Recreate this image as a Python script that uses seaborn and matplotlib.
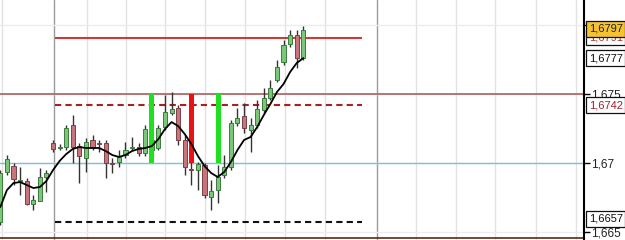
import numpy as np
import pandas as pd
import matplotlib
matplotlib.use("Agg")
import matplotlib.pyplot as plt
import matplotlib.transforms as mtransforms
import seaborn as sns

# ---------------- data ----------------
opens = [1.6657, 1.66935, 1.66978, 1.66873, 1.66870, 1.66703, 1.66725, 1.66899,
         1.67145, 1.67109, 1.67116, 1.67276, 1.67123, 1.67036, 1.67167, 1.67145,
         1.67145, 1.67000, 1.67007, 1.67058, 1.67109, 1.67116, 1.67073, 1.67094,
         1.67109, 1.67261, 1.67363, 1.67399, 1.67167, 1.66957, 1.66949, 1.66986,
         1.66754, 1.66804, 1.66913, 1.66971, 1.67290, 1.67341, 1.67239, 1.67276,
         1.67384, 1.67471, 1.67602, 1.67732, 1.67863, 1.67928, 1.67761]
closes = [1.6693, 1.67029, 1.66884, 1.66877, 1.66703, 1.66732, 1.66899, 1.66928,
          1.67102, 1.67116, 1.67254, 1.67116, 1.67051, 1.67152, 1.67116, 1.67140,
          1.67000, 1.66993, 1.67044, 1.67094, 1.67116, 1.67073, 1.67247, 1.67167,
          1.67254, 1.67370, 1.67392, 1.67167, 1.66971, 1.66949, 1.66993, 1.66768,
          1.66797, 1.66899, 1.66971, 1.67290, 1.67326, 1.67254, 1.67276, 1.67392,
          1.67471, 1.67544, 1.67696, 1.67856, 1.67928, 1.67761, 1.67964]
highs = [1.6695, 1.67058, 1.67000, 1.66971, 1.66891, 1.66768, 1.66964, 1.66949,
         1.67167, 1.67140, 1.67276, 1.67348, 1.67145, 1.67181, 1.67203, 1.67167,
         1.67167, 1.67036, 1.67094, 1.67152, 1.67189, 1.67145, 1.67276, 1.67200,
         1.67276, 1.67493, 1.67515, 1.67420, 1.67203, 1.67007, 1.67007, 1.67000,
         1.66877, 1.66986, 1.67058, 1.67312, 1.67399, 1.67435, 1.67326, 1.67457,
         1.67544, 1.67602, 1.67747, 1.67892, 1.67964, 1.67964, 1.67993]
lows = [1.6655, 1.66913, 1.66841, 1.66768, 1.66696, 1.66659, 1.66725, 1.66790,
        1.67080, 1.67094, 1.67094, 1.67000, 1.66855, 1.66935, 1.67094, 1.67080,
        1.66891, 1.66928, 1.66971, 1.67036, 1.67094, 1.67051, 1.67051, 1.67070,
        1.67094, 1.67239, 1.67348, 1.67130, 1.66913, 1.66841, 1.66804, 1.66746,
        1.66659, 1.66710, 1.66891, 1.66949, 1.67268, 1.67218, 1.67080, 1.67254,
        1.67363, 1.67457, 1.67587, 1.67711, 1.67841, 1.67689, 1.67747]
ma_values = [1.66681, 1.66804, 1.66855, 1.66862, 1.66841, 1.66819, 1.66826, 1.66870,
             1.66949, 1.67015, 1.67065, 1.67102, 1.67116, 1.67109, 1.67109, 1.67109,
             1.67087, 1.67058, 1.67044, 1.67058, 1.67087, 1.67102, 1.67109, 1.67123,
             1.67174, 1.67247, 1.67297, 1.67268, 1.67210, 1.67138, 1.67051, 1.66978,
             1.66928, 1.66899, 1.66935, 1.67007, 1.67094, 1.67167, 1.67189, 1.67261,
             1.67348, 1.67428, 1.67515, 1.67573, 1.67660, 1.67725, 1.67761]

# signal bars: (candle index, colour)
signal_index = [23, 29.05, 33.1]
signal_color = ["#1fe01f", "#ee1111", "#1fe01f"]
signal_low, signal_high = 1.6700, 1.6750

level_resist = 1.6791     # solid red
level_dash_red = 1.6742   # dashed red
level_brown = 1.6750      # full width brown
level_blue = 1.6700       # full width light blue
level_dash_black = 1.6657 # dashed black
level_bottom = 1.66458

tick_values = [1.665, 1.67, 1.675, 1.68]
tick_labels = ["1,665", "1,67", "1,675", "1,68"]

df = pd.DataFrame({"idx": np.arange(len(opens)), "open": opens, "close": closes,
                   "high": highs, "low": lows, "ma": ma_values})

# ---------------- drawing ----------------
sns.set_theme(style="white")
plt.rcParams["font.family"] = ["Liberation Sans", "DejaVu Sans"]

fig = plt.figure(figsize=(6.25, 2.4), dpi=100)
ax = fig.add_axes([0, 0, 584 / 625, 1])
ax.set_facecolor("white")

xmax = 584 / 6.59
ax.set_xlim(-0.05, xmax)
ax.set_ylim(1.66442, 1.68182)

# grid
vgrid = [0.3, 8.2, 13.2, 19.1, 25.0, 31.1, 37.2, 43.2, 49.3, 57.2, 63.1, 69.2, 75.1, 81.3, 87.4]
for v in vgrid:
    major = v in (8.2, 57.2)
    ax.axvline(v, color="#9a9a9a" if major else "#e2e2e2", lw=1.0, zorder=0)
for t in tick_values:
    ax.axhline(t, color="#ececec", lw=1.0, zorder=0)

# level lines
ax.axhline(level_brown, color="#a86060", lw=1.2, zorder=1)
ax.axhline(level_blue, color="#7cc0e6", lw=1.0, zorder=1)
ax.axhline(level_bottom, color="#5a2a1a", lw=1.2, zorder=1)
x0, x1 = 8.35, 54.9
ax.hlines(level_resist, x0, x1, color="#cc3a3a", lw=1.5, zorder=1)
ax.hlines(level_dash_red, x0, x1, color="#aa2020", lw=1.5, linestyles=(0, (3, 2)), zorder=1)
ax.hlines(level_dash_black, x0, x1, color="#111111", lw=1.5, linestyles=(0, (3, 2)), zorder=1)

# candles
up = df["close"] >= df["open"]
ax.vlines(df["idx"], df["low"], df["high"], color="#333333", lw=1.0, zorder=2)
body_bottom = np.minimum(df["open"], df["close"])
body_h = np.maximum(np.abs(df["close"] - df["open"]), 0.00003)
ax.bar(df["idx"][up], body_h[up], bottom=body_bottom[up], width=0.62,
       color="#78c878", edgecolor="#3d7a3d", lw=0.7, zorder=3)
ax.bar(df["idx"][~up], body_h[~up], bottom=body_bottom[~up], width=0.62,
       color="#c8747c", edgecolor="#7a4046", lw=0.7, zorder=3)

# signal bars
for si, sc in zip(signal_index, signal_color):
    ax.bar(si, signal_high - signal_low, bottom=signal_low, width=0.72,
           color=sc, lw=0, zorder=4)

# moving average
sns.lineplot(data=df, x="idx", y="ma", ax=ax, color="black", lw=1.3, zorder=5)
ax.set_xlabel("")
ax.set_ylabel("")

# axes styling
for s in ["top", "left", "bottom"]:
    ax.spines[s].set_visible(False)
ax.spines["right"].set_color("black")
ax.spines["right"].set_linewidth(1.5)
ax.set_xticks([])
ax.yaxis.tick_right()
ax.set_yticks(tick_values)
ax.set_yticklabels(tick_labels, fontsize=8.5, color="#222222")
ax.tick_params(axis="y", direction="out", length=4, width=1, color="black", pad=1)

# price label boxes
trans = mtransforms.blended_transform_factory(ax.transAxes, ax.transData)
xt = 1.008
boxes = [
    (level_resist, "1,6791", "#b03030", "white"),
    (1.67972, "1,6797", "#222222", "#f5c232"),
    (ma_values[-1], "1,6777", "#111111", "white"),
    (level_dash_red, "1,6742", "#a02030", "white"),
    (level_dash_black + 0.00025, "1,6657", "#111111", "white"),
]
for y, s, tc, fc in boxes:
    ax.text(xt, y, s, transform=trans, ha="left", va="center", fontsize=8,
            color=tc, clip_on=False, zorder=10,
            bbox=dict(boxstyle="square,pad=0.25", fc=fc, ec="#111111", lw=0.9))

fig.savefig("out.png", dpi=100)
